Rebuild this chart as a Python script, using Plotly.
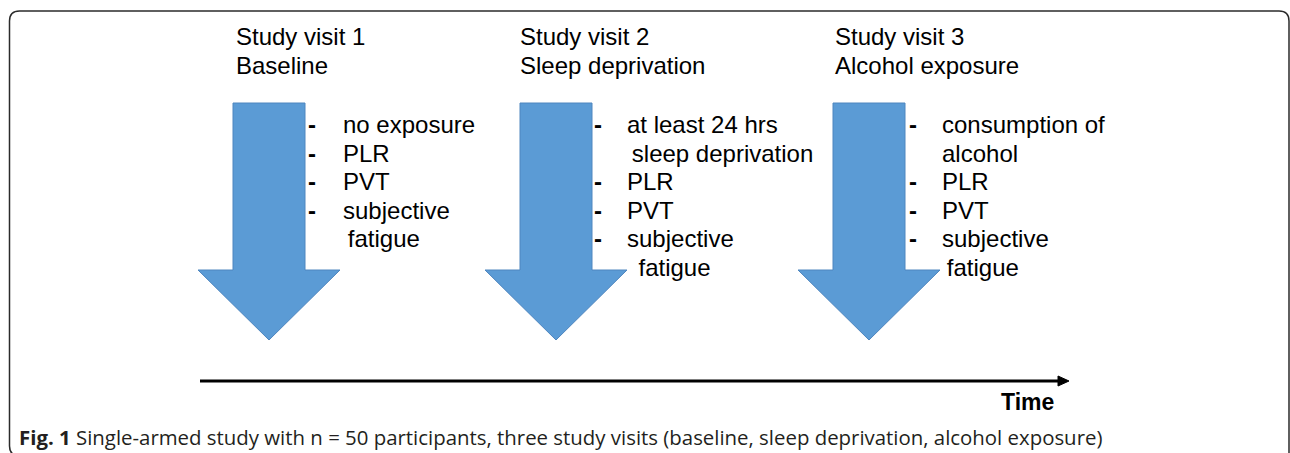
import plotly.graph_objects as go

W, H = 1290, 453

# ---- content ----
THIN = "\u2009"
visit_titles = ["Study visit 1", "Study visit 2", "Study visit 3"]
visit_names = ["Baseline", "Sleep deprivation", "Alcohol exposure"]
visit_items = [
    [("-", "no exposure"), ("-", "PLR"), ("-", "PVT"), ("-", "subjective"), ("", THIN + "fatigue")],
    [("-", "at least 24 hrs"), ("", THIN + "sleep deprivation"), ("-", "PLR"), ("-", "PVT"), ("-", "subjective"), ("", " " + THIN + "fatigue")],
    [("-", "consumption of"), ("", "alcohol"), ("-", "PLR"), ("-", "PVT"), ("-", "subjective"), ("", THIN + "fatigue")],
]
axis_label = "Time"
caption_bold = "Fig. 1"
caption_text = "Single-armed study with n = 50 participants, three study visits (baseline, sleep deprivation, alcohol exposure)"

# ---- layout constants (pixels) ----
arrow_cx = [269, 556, 869]
title_x = [234, 518, 833]
dash_x = [312, 598, 913]
item_x = [341, 625, 940]
shaft_half, head_half = 36, 71
shaft_top, shoulder, tip = 103, 270, 340
title_y = [36.5, 65.5]
line_y0, line_dy = 124.5, 28.6
FONT = "Liberation Sans, Arial, sans-serif"

fig = go.Figure()

# arrows
for cx in arrow_cx:
    xs = [cx - shaft_half, cx + shaft_half, cx + shaft_half, cx + head_half, cx,
          cx - head_half, cx - shaft_half, cx - shaft_half]
    ys = [shaft_top, shaft_top, shoulder, shoulder, tip, shoulder, shoulder, shaft_top]
    fig.add_trace(go.Scatter(x=xs, y=ys, mode="lines", fill="toself",
                             fillcolor="#5B9BD5", line=dict(color="#4F86BF", width=1),
                             hoverinfo="skip", showlegend=False))

annotations = []
for i in range(3):
    annotations.append(dict(x=title_x[i], y=title_y[0], text=visit_titles[i]))
    annotations.append(dict(x=title_x[i], y=title_y[1], text=visit_names[i]))
    for j, (d, t) in enumerate(visit_items[i]):
        y = line_y0 + j * line_dy
        if d:
            annotations.append(dict(x=dash_x[i], y=y, text="<b>" + d + "</b>", xanchor="center"))
        annotations.append(dict(x=item_x[i], y=y, text=t.replace(" ", "&nbsp;")))

anns = []
for a in annotations:
    base = dict(xref="x", yref="y", xanchor="left", yanchor="middle", showarrow=False,
                font=dict(family=FONT, size=24, color="#000000"))
    base.update(a)
    anns.append(base)

anns.append(dict(x=1056, y=402, xref="x", yref="y", text="<b>" + axis_label + "</b>",
                 xanchor="right", yanchor="middle", showarrow=False,
                 font=dict(family=FONT, size=23, color="#000000")))
anns.append(dict(x=17, y=437, xref="x", yref="y",
                 text="<b>" + caption_bold + "</b> " + caption_text,
                 xanchor="left", yanchor="middle", showarrow=False,
                 font=dict(family="Open Sans, sans-serif", size=20.4, color="#231F20")))

shapes = [
    # frame
    dict(type="path", xref="x", yref="y",
         path="M 20,456 Q 9.5,456 9.5,446 L 9.5,21 Q 9.5,11 19.5,11 L 1279,11 Q 1289,11 1289,21 L 1289,456",
         line=dict(color="#2b2b2b", width=1.5)),
    # timeline
    dict(type="line", xref="x", yref="y", x0=200, y0=381, x1=1060, y1=381,
         line=dict(color="#000000", width=3)),
    dict(type="path", xref="x", yref="y", path="M 1058,376 L 1069,381 L 1058,386 Z",
         fillcolor="#000000", line=dict(color="#000000", width=1)),
]

fig.update_layout(
    width=W, height=H, margin=dict(l=0, r=0, t=0, b=0),
    paper_bgcolor="white", plot_bgcolor="white",
    xaxis=dict(range=[0, W], visible=False, fixedrange=True),
    yaxis=dict(range=[H, 0], visible=False, fixedrange=True),
    annotations=anns, shapes=shapes, showlegend=False,
)

fig.write_html("out.html", config={"displayModeBar": False},
               post_script="document.body.style.margin='0';document.body.style.overflow='hidden';")
